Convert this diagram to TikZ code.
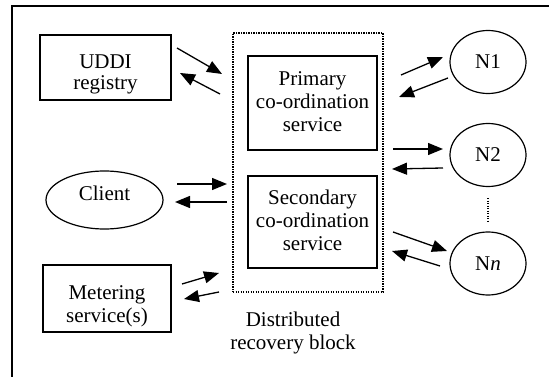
\documentclass[tikz,border=0pt]{standalone}
\usepackage{fontspec}
\setmainfont{Liberation Serif}
\usetikzlibrary{arrows.meta,shapes.geometric}
\begin{document}
\begin{tikzpicture}[x=1pt,y=-1pt,
  every node/.style={font=\fontsize{21}{23}\selectfont, inner sep=0pt},
  box/.style={draw, line width=1.2pt},
  txt/.style={align=center},
  oval/.style={draw, ellipse, line width=1.2pt},
  dotline/.style={line width=1.2pt, dash pattern=on 1.2pt off 1.3pt},
  arr/.style={-{Triangle[length=15pt,width=12pt]}, line width=1.3pt}
]
\useasboundingbox (0,0) rectangle (549,377);
\draw[line width=1.3pt] (12,377) -- (12,6) -- (549,6);

% left column
\node[box, minimum width=131pt, minimum height=65pt] (uddi) at (105.5,67.5) {};
\node[txt, font=\fontsize{21}{21}\selectfont] (uddi-t) at (105.5,73.9) {UDDI\\registry};
\node[oval, minimum width=117pt, minimum height=58pt, text depth=13pt] (client) at (104.5,200) {Client};
\node[box, minimum width=128pt, minimum height=67pt] (meter) at (107,298.5) {};
\node[txt] (meter-t) at (107,306) {Metering\\service(s)};

% distributed recovery block
\node[draw, dotline, minimum width=150pt, minimum height=259pt] (drb) at (308,162.5) {};
\node[box, minimum width=129pt, minimum height=94pt] (prim) at (312.5,103) {};
\node[txt] (prim-t) at (312.5,101.8) {Primary\\co-ordination\\service};
\node[box, minimum width=129pt, minimum height=92pt] (sec) at (312.5,222) {};
\node[txt] (sec-t) at (312.5,220.5) {Secondary\\co-ordination\\service};
\node[txt] (drblabel) at (293,332.6) {Distributed\\recovery block};

% right column
\node[oval, minimum width=76pt, minimum height=63pt] (n1) at (488,62) {N1};
\node[oval, minimum width=76pt, minimum height=63pt] (n2) at (488,155) {N2};
\node[oval, minimum width=76pt, minimum height=63pt] (nn) at (488,263.5) {N\textit{n}};
\draw[dotline] ([yshift=-11pt]n2.south) -- ([yshift=9pt]nn.north);

% free ends of connectors
\coordinate (u1a) at (177,48);  \coordinate (u1b) at (222,74);
\coordinate (u2a) at (220,94);  \coordinate (u2b) at (180,73);
\coordinate (c1a) at (177,184); \coordinate (c1b) at (227,184);
\coordinate (c2a) at (227,202); \coordinate (c2b) at (175,202);
\coordinate (m1a) at (182,284); \coordinate (m1b) at (219,273);
\coordinate (m2a) at (219,292); \coordinate (m2b) at (184,299);
\coordinate (a1a) at (401,75);  \coordinate (a1b) at (443,57);
\coordinate (a2a) at (448,78);  \coordinate (a2b) at (399,97);
\coordinate (b1a) at (393,149); \coordinate (b1b) at (443,149);
\coordinate (b2a) at (443,168); \coordinate (b2b) at (392,169);
\coordinate (d1a) at (393,232); \coordinate (d1b) at (447,251);
\coordinate (d2a) at (440,266); \coordinate (d2b) at (392,251);

\draw[arr] (u1a) -- (u1b);
\draw[arr] (u2a) -- (u2b);
\draw[arr] (c1a) -- (c1b);
\draw[arr] (c2a) -- (c2b);
\draw[arr] (m1a) -- (m1b);
\draw[arr] (m2a) -- (m2b);
\draw[arr] (a1a) -- (a1b);
\draw[arr] (a2a) -- (a2b);
\draw[arr] (b1a) -- (b1b);
\draw[arr] (b2a) -- (b2b);
\draw[arr] (d1a) -- (d1b);
\draw[arr] (d2a) -- (d2b);
\end{tikzpicture}
\end{document}
